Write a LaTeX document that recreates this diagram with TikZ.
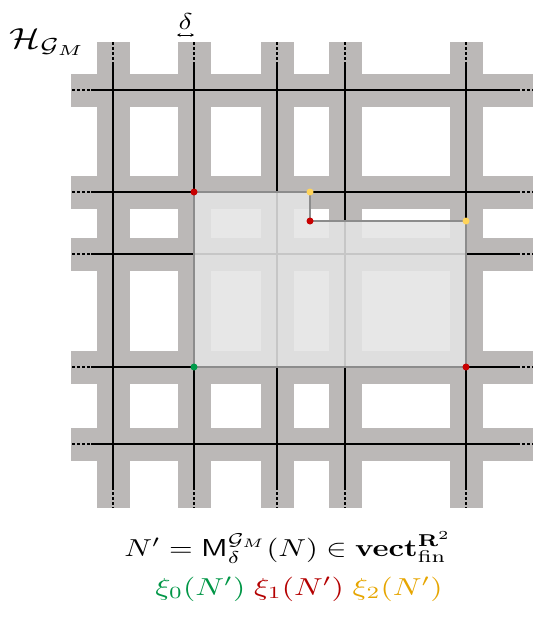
\documentclass[tikz,border=0pt]{standalone}
\usepackage{amsmath}
\usetikzlibrary{arrows.meta}
\definecolor{bandgray}{RGB}{187,184,183}
\definecolor{ptred}{RGB}{200,0,0}
\definecolor{ptyellow}{RGB}{255,212,90}
\definecolor{ptgreen}{RGB}{0,155,75}
\definecolor{txgreen}{RGB}{0,150,70}
\definecolor{txred}{RGB}{180,0,0}
\definecolor{txgold}{RGB}{230,165,0}
\definecolor{outlinegray}{RGB}{140,140,140}
\tikzset{
  band/.style={fill=bandgray},
  gridline/.style={draw=black,line width=2.8pt},
  gridend/.style={draw=black,line width=2.8pt,dash pattern=on 2.6pt off 2.4pt},
  shade/.style={fill={rgb,255:red,228;green,228;blue,228},fill opacity=0.87},
  outline/.style={draw=outlinegray,line width=1.4pt,line join=miter},
  dot/.style={circle,inner sep=0pt,minimum size=7pt},
  label text/.style={inner sep=0pt,font=\normalsize},
}
\begin{document}
\begin{tikzpicture}[x=1pt,y=-1pt]
\useasboundingbox (0,0) rectangle (533,619);
% bands
\foreach \x in {113,194,277,345,466}{
  \fill[band] ({\x-16.5},42) rectangle ({\x+16.5},508);
}
\foreach \y in {90,192,254,367,444}{
  \fill[band] (71,{\y-16.5}) rectangle (533,{\y+16.5});
}
% grid lines
\foreach \x in {113,194,277,345,466}{
  \draw[gridline] (\x,62) -- (\x,487);
  \draw[gridend] (\x,42) -- (\x,62);
  \draw[gridend] (\x,487) -- (\x,508);
}
\foreach \y in {90,192,254,367,444}{
  \draw[gridline] (91,\y) -- (517,\y);
  \draw[gridend] (72,\y) -- (91,\y);
  \draw[gridend] (517,\y) -- (533,\y);
}
% region
\coordinate (p1) at (194,192);
\coordinate (p2) at (310,192);
\coordinate (p3) at (310,221);
\coordinate (p4) at (466,221);
\coordinate (p5) at (466,367);
\coordinate (p6) at (194,367);
\fill[shade] (p1) -- (p2) -- (p3) -- (p4) -- (p5) -- (p6) -- cycle;
\draw[outline] (p1) -- (p2) -- (p3) -- (p4) -- (p5) -- (p6) -- cycle;
\node[dot,fill=ptred] (d1) at (p1) {};
\node[dot,fill=ptyellow] (d2) at (p2) {};
\node[dot,fill=ptred] (d3) at (p3) {};
\node[dot,fill=ptyellow] (d4) at (p4) {};
\node[dot,fill=ptred] (d5) at (p5) {};
\node[dot,fill=ptgreen] (d6) at (p6) {};
% labels
\node[label text,anchor=base west,xscale=3.6,yscale=2.9] (H) at (9,48) {$\mathcal{H}_{\mathcal{G}_M}$};
\node[label text,anchor=base,xscale=2.9,yscale=2.3] (delta) at (185.5,29) {$\delta$};
\coordinate (da) at (177,35);
\coordinate (db) at (194,35);
\draw[{Stealth[length=3.5pt,width=3.5pt]}-{Stealth[length=3.5pt,width=3.5pt]},line width=0.8pt] (da) -- (db);
\node[label text,anchor=base,xscale=3.04,yscale=2.45] (f1) at (288,556) {$N' = \mathsf{M}^{\mathcal{G}_M}_{\delta}(N) \in \mathbf{vect}^{\mathbf{R}^2}_{\mathrm{fin}}$};
\node[label text,anchor=base,xscale=3.15,yscale=2.45] (f2) at (299,595) {$\textcolor{txgreen}{\xi_0(N')}\;\textcolor{txred}{\xi_1(N')}\;\textcolor{txgold}{\xi_2(N')}$};
\end{tikzpicture}
\end{document}
